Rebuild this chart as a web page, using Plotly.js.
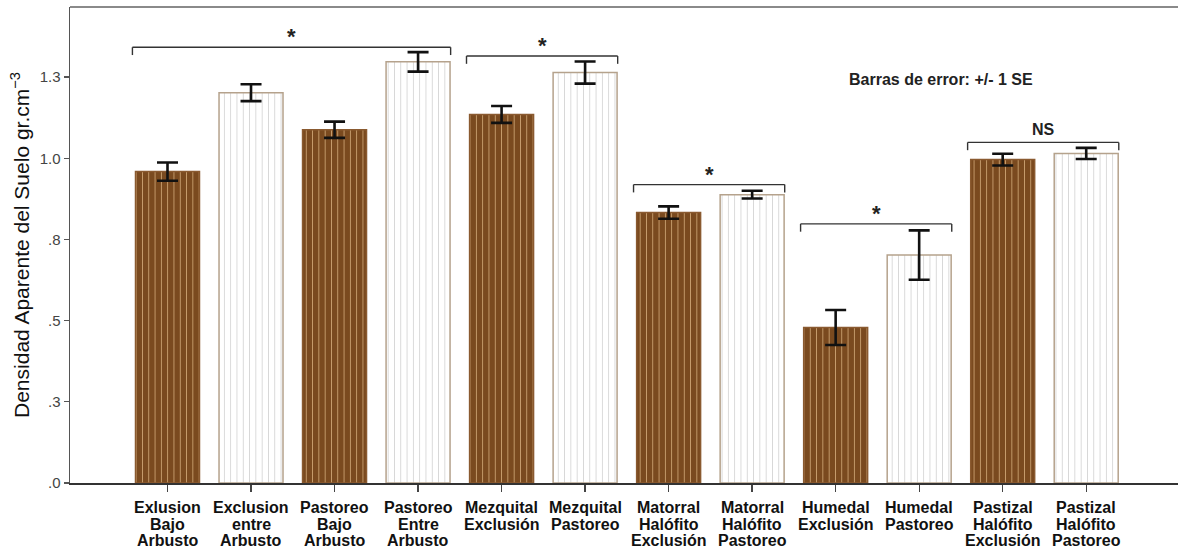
<!DOCTYPE html>
<html>
<head>
<meta charset="utf-8">
<script src="https://cdn.plot.ly/plotly-3.0.1.min.js"></script>
<style>html,body{margin:0;padding:0;background:#fff;}#chart{width:1178px;height:550px;}</style>
</head>
<body>
<div id="chart"></div>
<script>
// ---- data ----
var categories = [
  'Exlusion<br>Bajo<br>Arbusto',
  'Exclusion<br>entre<br>Arbusto',
  'Pastoreo<br>Bajo<br>Arbusto',
  'Pastoreo<br>Entre<br>Arbusto',
  'Mezquital<br>Exclusión',
  'Mezquital<br>Pastoreo',
  'Matorral<br>Halófito<br>Exclusión',
  'Matorral<br>Halófito<br>Pastoreo',
  'Humedal<br>Exclusión',
  'Humedal<br>Pastoreo',
  'Pastizal<br>Halófito<br>Exclusión',
  'Pastizal<br>Halófito<br>Pastoreo'
];
var meanDensity = [0.959, 1.202, 1.088, 1.297, 1.135, 1.264, 0.833, 0.888, 0.479, 0.702, 0.996, 1.015];
var stdError    = [0.028, 0.026, 0.025, 0.030, 0.026, 0.034, 0.019, 0.012, 0.054, 0.076, 0.018, 0.017];
var pairMember  = [1, 2, 1, 2, 1, 2, 1, 2, 1, 2, 1, 2];

var yTickVals  = [0, 0.25, 0.5, 0.75, 1.0, 1.25];
var yTickText  = ['.0', '.3', '.5', '.8', '1.0', '1.3'];

var bracketStart = [0, 4, 6, 8, 10];
var bracketEnd   = [3, 5, 7, 9, 11];
var bracketLevel = [1.342, 1.315, 0.919, 0.798, 1.049];
var bracketLabel = ['*', '*', '*', '*', 'NS'];

// ---- styles ----
var FONT = 'Arial, "Liberation Sans", sans-serif';
var styles = {
  1: { bg: '#7a4a1f', fg: '#e6c08e', line: '#8a5a30', solidity: 0.14, fgopacity: 0.75 },
  2: { bg: '#ffffff', fg: '#b4b4b4', line: '#b5a28c', solidity: 0.12, fgopacity: 0.65 }
};

function makeTrace(member) {
  var xs = [], ys = [], es = [];
  for (var i = 0; i < categories.length; i++) {
    if (pairMember[i] === member) { xs.push(categories[i]); ys.push(meanDensity[i]); es.push(stdError[i]); }
  }
  var s = styles[member];
  return {
    type: 'bar', x: xs, y: ys, width: 0.766,
    marker: {
      color: s.bg,
      line: { color: s.line, width: 1.5 },
      pattern: { shape: '|', fillmode: 'overlay', fgcolor: s.fg, size: 6.3, solidity: s.solidity, fgopacity: s.fgopacity }
    },
    error_y: { type: 'data', array: es, visible: true, color: '#111111', thickness: 2.6, width: 10.5 },
    hoverinfo: 'none'
  };
}

var shapes = [];
var annotations = [];
var LEG = 0.024;
for (var b = 0; b < bracketStart.length; b++) {
  var x0 = bracketStart[b] - 0.42, x1 = bracketEnd[b] + 0.39, yl = bracketLevel[b];
  var ls = { color: '#333333', width: 1.4 };
  shapes.push({ type: 'line', xref: 'x', yref: 'y', x0: x0, x1: x1, y0: yl, y1: yl, line: ls });
  shapes.push({ type: 'line', xref: 'x', yref: 'y', x0: x0, x1: x0, y0: yl, y1: yl - LEG, line: ls });
  shapes.push({ type: 'line', xref: 'x', yref: 'y', x0: x1, x1: x1, y0: yl, y1: yl - LEG, line: ls });
  var isStar = bracketLabel[b] === '*';
  annotations.push({
    xref: 'x', yref: 'y', x: (x0 + x1) / 2, y: yl, yanchor: 'bottom', xanchor: 'center',
    yshift: isStar ? -4 : 2, showarrow: false, text: '<b>' + bracketLabel[b] + '</b>',
    font: { family: FONT, size: isStar ? 22 : 16, color: '#222222' }
  });
}
// top frame line
shapes.push({ type: 'line', xref: 'paper', yref: 'paper', x0: 0, x1: 1, y0: 1, y1: 1, line: { color: '#8a8a8a', width: 2 } });

// category labels, one line each for tight spacing
categories.forEach(function(c, i) {
  c.split('<br>').forEach(function(line, k) {
    annotations.push({
      xref: 'x', yref: 'y', x: i, y: 0, yanchor: 'top', xanchor: 'center',
      yshift: -14 - k * 16.5, showarrow: false, text: '<b>' + line + '</b>',
      font: { family: FONT, size: 16, color: '#111111' }
    });
  });
});

annotations.push({
  xref: 'paper', yref: 'paper', x: 0.701, y: 0.848, xanchor: 'left', yanchor: 'middle',
  showarrow: false, text: '<b>Barras de error: +/- 1 SE</b>',
  font: { family: FONT, size: 16, color: '#222222' }
});

var layout = {
  width: 1178, height: 550,
  margin: { l: 70, r: 0, t: 7, b: 66.5, pad: 0 },
  paper_bgcolor: '#ffffff', plot_bgcolor: '#ffffff',
  showlegend: false,
  barmode: 'overlay',
  font: { family: FONT },
  xaxis: {
    type: 'category',
    categoryorder: 'array', categoryarray: categories,
    range: [-1.1674, 12.099],
    showgrid: false, zeroline: false,
    showline: true, linecolor: '#333333', linewidth: 1.5,
    ticks: 'outside', ticklen: 7, tickcolor: '#444444', tickwidth: 1.3,
    showticklabels: false
  },
  yaxis: {
    range: [0, 1.466],
    tickvals: yTickVals, ticktext: yTickText,
    showgrid: false, zeroline: false,
    showline: true, linecolor: '#555555', linewidth: 1.5,
    ticks: 'outside', ticklen: 5, tickcolor: '#555555', tickwidth: 1.3,
    tickfont: { family: FONT, size: 15, color: '#444444' },
    title: { text: 'Densidad Aparente del Suelo gr.cm<sup>−3</sup>', font: { family: FONT, size: 21, color: '#111111' }, standoff: 4 },
    automargin: false
  },
  shapes: shapes,
  annotations: annotations
};

Plotly.newPlot('chart', [makeTrace(1), makeTrace(2)], layout, { displayModeBar: false, staticPlot: true });
</script>
</body>
</html>
